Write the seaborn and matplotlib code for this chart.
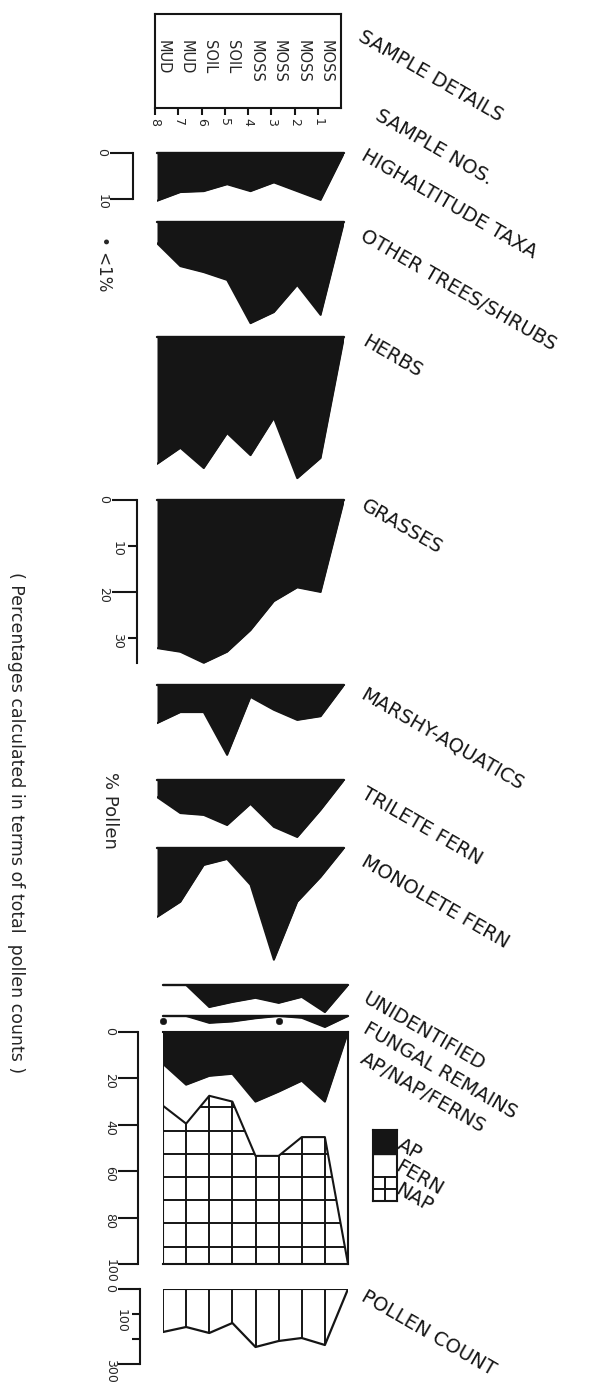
import numpy as np
import matplotlib.pyplot as plt
import seaborn as sns

# samples, left (8) to right (1); the diagram closes at 0 on the right edge
samples = [8, 7, 6, 5, 4, 3, 2, 1]
sample_type = ["MUD", "MUD", "SOIL", "SOIL", "MOSS", "MOSS", "MOSS", "MOSS"]

# % pollen
high_altitude = [10.4, 8.5, 8.3, 6.8, 8.3, 6.4, 8.3, 10.2]
other_trees = [4.6, 9.6, 10.9, 12.6, 22.0, 19.6, 13.7, 20.2]
herbs = [27.6, 24.1, 28.5, 20.9, 25.7, 17.6, 30.7, 26.3]
grasses = [32.2, 33.0, 35.4, 33.0, 28.3, 22.0, 19.0, 20.0]
marshy = [8.3, 5.9, 5.9, 15.2, 2.6, 5.4, 7.6, 6.8]
trilete = [3.7, 7.2, 7.6, 9.8, 5.2, 10.2, 12.4, 6.5]
monolete = [15.0, 11.7, 3.7, 2.4, 8.0, 24.3, 11.7, 6.3]
unidentified = [0.0, 0.0, 4.8, 3.7, 2.8, 3.9, 2.6, 5.9]
fungal = [0.0, 0.0, 1.5, 1.2, 0.5, 0.0, 0.4, 2.4]
fungal_trace = [8, 3]          # samples with <1%
trace_level = 1.0

# AP / FERN / NAP (cumulative to 100)
ap = [13.7, 22.7, 18.9, 18.0, 30.0, 25.7, 21.0, 30.0]
fern = [18.1, 16.8, 8.6, 12.0, 23.4, 27.7, 24.3, 15.3]

pollen_count = [172, 152, 176, 136, 232, 208, 196, 224]

W, H = 609, 1382
INK = "#151515"
sns.set_style("white")
plt.rcParams["font.family"] = ["DejaVu Sans"]

fig = plt.figure(figsize=(W / 100, H / 100), dpi=100)


def add_ax(left, right, top, bottom):
    ax = fig.add_axes([left / W, 1 - bottom / H, (right - left) / W, (bottom - top) / H])
    ax.patch.set_alpha(0)
    for s in ax.spines.values():
        s.set_visible(False)
    ax.set_xticks([])
    ax.set_yticks([])
    return ax


def ftext(x, y, s, **kw):
    fig.text(x / W, 1 - y / H, s, **kw)


def scale_bar(ax, major, minor, minor_labels, offset, major_len, minor_len, bounds):
    sp = ax.spines["left"]
    sp.set_visible(True)
    sp.set_linewidth(1.5)
    sp.set_color(INK)
    sp.set_position(("outward", offset * 0.72))
    sp.set_bounds(*bounds)
    ax.set_yticks(major)
    if minor:
        ax.set_yticks(minor, labels=minor_labels, minor=True)
    ax.tick_params(axis="y", which="major", left=True, length=major_len * 0.72, width=1.5,
                   color=INK, direction="out", labelrotation=-90, labelsize=9, pad=1)
    ax.tick_params(axis="y", which="minor", left=True, length=minor_len * 0.72, width=1.5,
                   color=INK, direction="out", labelrotation=-90, labelsize=9, pad=3,
                   labelleft=True)


def silhouette(vals, top, ymax, left=157, right=344, px=4.6):
    ax = add_ax(left, right, top, top + ymax * px)
    x = samples + [0]
    y = vals + [0]
    ax.fill_between(x, 0, y, color=INK, lw=0)
    sns.lineplot(x=x, y=y, ax=ax, color=INK, lw=1.4, sort=False, estimator=None)
    ax.axhline(0, color=INK, lw=1.7, clip_on=False)
    ax.set_xlim(8, 0)
    ax.set_ylim(ymax, 0)
    ax.set_xlabel("")
    ax.set_ylabel("")
    return ax


# sample details box
axd = add_ax(155, 341, 14, 108)
for s in axd.spines.values():
    s.set_visible(True)
    s.set_linewidth(1.5)
    s.set_color(INK)
axd.set_xlim(8, 0)
axd.set_ylim(0, 1)
axd.set_xticks(samples)
axd.set_xticklabels([str(s) for s in samples])
axd.tick_params(axis="x", bottom=True, length=5, width=1.5, color=INK, direction="out",
                labelrotation=-90, labelsize=9, pad=2)
for s, t in zip(samples, sample_type):
    axd.text(s - 0.35, 0.72, t, rotation=-90, ha="center", va="top", fontsize=10.5,
             transform=axd.get_xaxis_transform())

# percentage panels
ax = silhouette(high_altitude, 153, 11)
scale_bar(ax, [0, 10], None, None, 24, 23, 0, (0, 10))
silhouette(other_trees, 222, 23)
silhouette(herbs, 337, 31.5)
ax = silhouette(grasses, 500, 36)
scale_bar(ax, [0, 20], [10, 30], ["10", "30"], 20, 25, 9, (0, 35.5))
silhouette(marshy, 685, 16)
silhouette(trilete, 780, 13)
silhouette(monolete, 848, 25)
silhouette(unidentified, 985, 6.5, left=163, right=348)
ax = silhouette(fungal, 1016, 3, left=163, right=348)
sns.scatterplot(x=fungal_trace, y=[trace_level] * len(fungal_trace), ax=ax, color=INK,
                s=22, edgecolor=INK, clip_on=False)
ax.set_xlim(8, 0)
ax.set_ylim(3, 0)

# AP / NAP / FERNS
axa = add_ax(163, 348, 1032, 1032 + 232)
x = samples + [0]
ap_y = ap + [0]
cum = [a + f for a, f in zip(ap, fern)] + [100]
axa.fill_between(x, 0, ap_y, color=INK, lw=0)
nap = axa.fill_between(x, cum, 100, facecolor="none", lw=0)
sns.lineplot(x=x, y=ap_y, ax=axa, color=INK, lw=1.5, sort=False, estimator=None)
sns.lineplot(x=x, y=cum, ax=axa, color=INK, lw=1.5, sort=False, estimator=None)
axa.vlines(samples, cum[:-1], 100, colors=INK, lw=1.4)
grid = axa.hlines(np.arange(32.5, 100, 10), 8, 0, colors=INK, lw=1.4)
grid.set_clip_path(nap.get_paths()[0], axa.transData)
axa.axvline(8, color=INK, lw=1.5)
for side in ["top", "right", "bottom"]:
    axa.spines[side].set_visible(True)
    axa.spines[side].set_linewidth(1.5)
    axa.spines[side].set_color(INK)
axa.set_xlim(8, 0)
axa.set_ylim(100, 0)
axa.set_xlabel("")
axa.set_ylabel("")
scale_bar(axa, [0, 20, 40, 60, 80, 100], None, None, 25, 20, 0, (0, 100))

# pollen count
axp = add_ax(163, 348, 1289, 1289 + 75)
axp.vlines(samples, 0, pollen_count, colors=INK, lw=1.4)
sns.lineplot(x=samples + [0], y=pollen_count + [0], ax=axp, color=INK, lw=1.6,
             sort=False, estimator=None)
axp.axhline(0, color=INK, lw=1.5)
axp.set_xlim(8, 0)
axp.set_ylim(300, 0)
axp.set_xlabel("")
axp.set_ylabel("")
scale_bar(axp, [0, 300], [100, 200], ["100", ""], 23, 22, 8, (0, 300))

# legend key
axl = add_ax(373, 397, 1130, 1201)
axl.set_xlim(0, 1)
axl.set_ylim(0, 3)
axl.axhspan(2, 3, color=INK)
axl.axhline(1, color=INK, lw=1.4)
axl.axhline(0.5, color=INK, lw=1.4)
axl.axvline(0.5, ymax=1 / 3, color=INK, lw=1.4)
for s in axl.spines.values():
    s.set_visible(True)
    s.set_linewidth(1.5)
    s.set_color(INK)

# right hand labels
lab = dict(rotation=-30, rotation_mode="anchor", ha="left", va="top", fontsize=14, color=INK)
right_labels = [("SAMPLE DETAILS", 364, 27), ("SAMPLE NOS.", 381, 106),
                ("HIGHALTITUDE TAXA", 367, 146), ("OTHER TREES/SHRUBS", 367, 226),
                ("HERBS", 369, 332), ("GRASSES", 367, 496), ("MARSHY-AQUATICS", 367, 685),
                ("TRILETE FERN", 367, 784), ("MONOLETE FERN", 367, 852),
                ("UNIDENTIFIED", 369, 989), ("FUNGAL REMAINS", 369, 1019),
                ("AP/NAP/FERNS", 366, 1049), ("POLLEN COUNT", 367, 1287)]
for t, xx, yy in right_labels:
    ftext(xx, yy, t, **lab)
for t, xx, yy in [("AP", 403, 1135), ("FERN", 402, 1157), ("NAP", 402, 1180)]:
    ftext(xx, yy, t, **lab)

# left side notes
ftext(104, 264, "\u2022 <1%", rotation=-90, ha="center", va="center", fontsize=12)
ftext(110, 810, "% Pollen", rotation=-90, ha="center", va="center", fontsize=13)
ftext(16, 823, "( Percentages calculated in terms of total  pollen counts )",
      rotation=-90, ha="center", va="center", fontsize=12.5)

fig.savefig("out.png", dpi=100)
